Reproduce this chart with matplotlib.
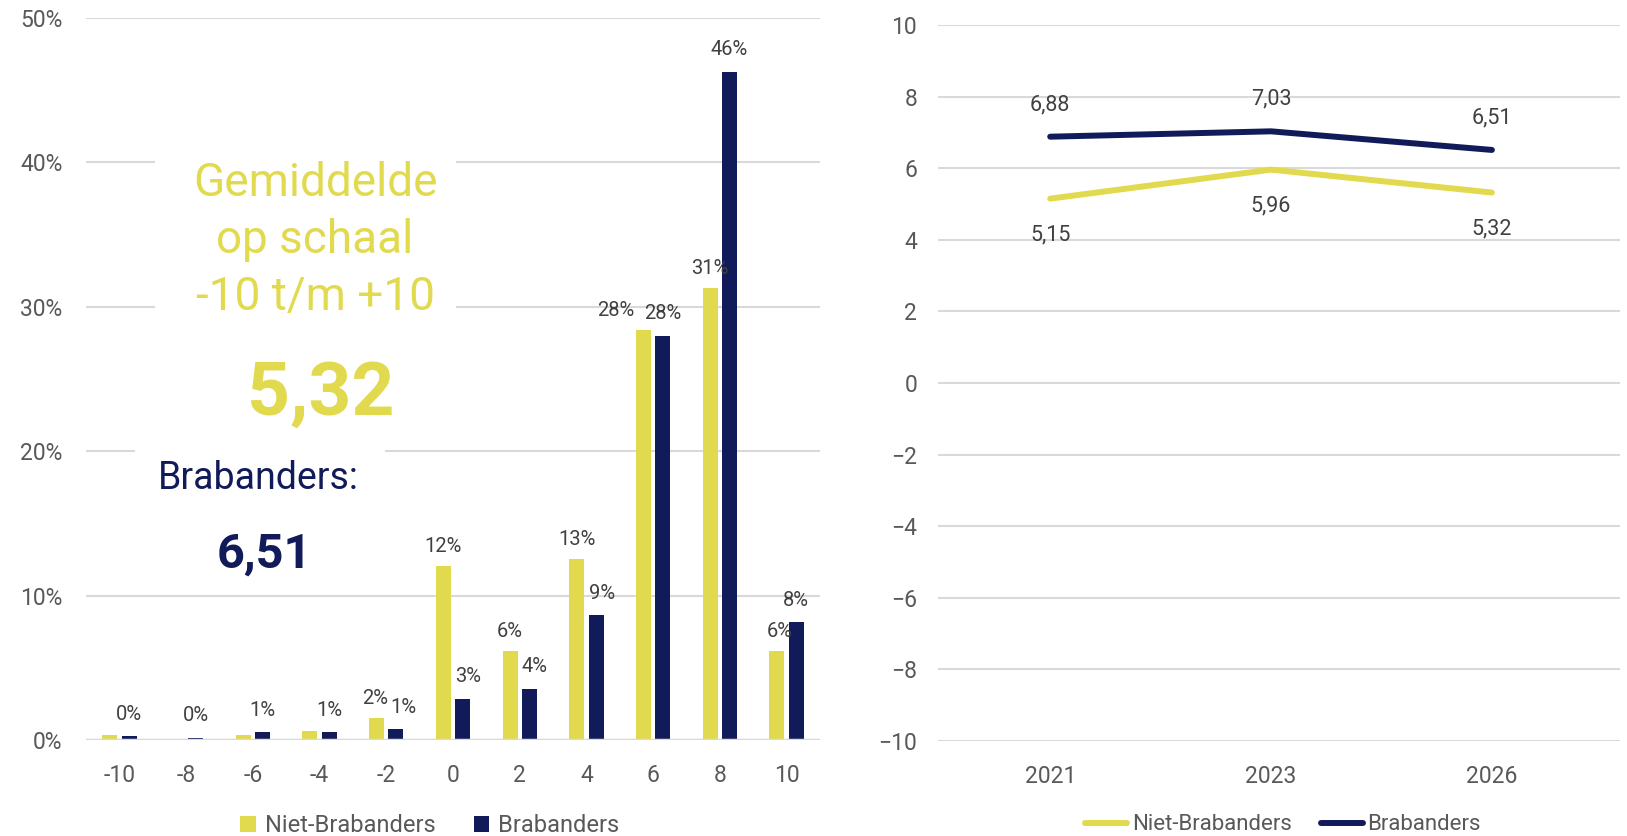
import matplotlib
matplotlib.use("Agg")
import matplotlib.pyplot as plt
from matplotlib.lines import Line2D
from matplotlib.patches import Patch, Rectangle
import numpy as np

plt.rcParams['font.family'] = ['Roboto', 'DejaVu Sans']

# ---------------- data ----------------
scale_cats = ["-10", "-8", "-6", "-4", "-2", "0", "2", "4", "6", "8", "10"]
niet_pct = [0.35, 0.07, 0.35, 0.64, 1.52, 12.05, 6.16, 12.53, 28.4, 31.28, 6.16]
brab_pct = [0.26, 0.14, 0.52, 0.52, 0.74, 2.84, 3.55, 8.63, 27.98, 46.28, 8.15]
pct_ticks = [0, 10, 20, 30, 40, 50]

years = ["2021", "2023", "2026"]
niet_mean = [5.15, 5.96, 5.32]
brab_mean = [6.88, 7.03, 6.51]
mean_ticks = [-10, -8, -6, -4, -2, 0, 2, 4, 6, 8, 10]

series_names = ["Niet-Brabanders", "Brabanders"]

# ---------------- style ----------------
YEL = "#E2DA4E"
NAV = "#121B5A"
GRID = "#D9D9D9"
TICK = "#595959"
LAB = "#404040"

W, H = 1627, 836
fig = plt.figure(figsize=(W / 100, H / 100), dpi=100)


def fx(px):
    return px / W


def fy(py):
    return 1 - py / H


# ---------------- left: bar chart ----------------
axL = fig.add_axes([fx(86), fy(740), 734 / W, 722 / H])
x = np.arange(len(scale_cats))
bw = 0.225
off = 0.145
axL.bar(x - off, niet_pct, width=bw, color=YEL, zorder=3)
axL.bar(x + off, brab_pct, width=bw, color=NAV, zorder=3)
axL.set_xlim(-0.5, len(scale_cats) - 0.5)
axL.set_ylim(0, 50)
axL.set_yticks(pct_ticks)
axL.set_yticklabels([f"{t}%" for t in pct_ticks])
axL.set_xticks(x)
axL.set_xticklabels(scale_cats)
axL.grid(axis='y', color=GRID, linewidth=1.5, zorder=0)
axL.set_axisbelow(True)
for s in axL.spines.values():
    s.set_visible(False)
axL.tick_params(axis='both', length=0, labelsize=16.5, colors=TICK)
axL.tick_params(axis='y', pad=17)
axL.tick_params(axis='x', pad=17)
axL.axhline(0, color=GRID, linewidth=2.5, zorder=4)

# bar labels
show_n = [False, False, False, False, True, True, True, True, True, True, True]
dx_n = [0, 0, 0, 0, -1, 0, 0, 0, -20, 0, 2]
dx_b = [0, 0, 0, 0, 5, 4, 4, 4, 0, 0, 0]
for i in range(len(scale_cats)):
    if show_n[i]:
        axL.annotate(f"{round(niet_pct[i])}%", (x[i] - off, niet_pct[i]),
                     xytext=(dx_n[i], 14), textcoords='offset points',
                     ha='center', va='center', fontsize=14.5, color=LAB)
    axL.annotate(f"{round(brab_pct[i])}%", (x[i] + off, brab_pct[i]),
                 xytext=(dx_b[i], 16), textcoords='offset points',
                 ha='center', va='center', fontsize=14.5, color=LAB)

# legend left
hL = [Patch(facecolor=YEL), Patch(facecolor=NAV)]
fig.legend(hL, series_names, loc='center', bbox_to_anchor=(fx(430), fy(826)),
           ncol=2, frameon=False, fontsize=17, labelcolor=TICK,
           handlelength=0.65, handleheight=0.65, handletextpad=0.4, columnspacing=1.6)

# white text boxes over the grid
fig.patches.append(Rectangle((fx(155), fy(425)), (456 - 155) / W, (425 - 135) / H,
                             transform=fig.transFigure, facecolor='white',
                             edgecolor='none', zorder=1))
fig.patches.append(Rectangle((fx(135), fy(588)), (385 - 135) / W, (588 - 425) / H,
                             transform=fig.transFigure, facecolor='white',
                             edgecolor='none', zorder=1))

fig.text(fx(315), fy(240), "Gemiddelde\nop schaal\n-10 t/m +10", ha='center', va='center',
         fontsize=33, color=YEL, linespacing=1.38, zorder=2)
fig.text(fx(321), fy(395), "5,32", ha='center', va='center', fontsize=54,
         fontweight='bold', color=YEL, zorder=2)
fig.text(fx(258), fy(479), "Brabanders:", ha='center', va='center', fontsize=27,
         color=NAV, zorder=2)
fig.text(fx(264), fy(555), "6,51", ha='center', va='center', fontsize=35,
         fontweight='bold', color=NAV, zorder=2)

# ---------------- right: line chart ----------------
axR = fig.add_axes([fx(938), fy(741), (1620 - 938) / W, 716 / H])
xi = np.arange(len(years))
axR.plot(xi, niet_mean, color=YEL, linewidth=4.3, solid_capstyle='round',
         solid_joinstyle='round', zorder=3)
axR.plot(xi, brab_mean, color=NAV, linewidth=4.3, solid_capstyle='round',
         solid_joinstyle='round', zorder=3)
axR.set_xlim(-0.508, 2.58)
axR.set_ylim(-10, 10)
axR.set_yticks(mean_ticks)
axR.set_xticks(xi)
axR.set_xticklabels(years)
axR.grid(axis='y', color=GRID, linewidth=1.5, zorder=0)
axR.set_axisbelow(True)
for s in axR.spines.values():
    s.set_visible(False)
axR.tick_params(axis='both', length=0, labelsize=16.5, colors=TICK)
axR.tick_params(axis='y', pad=15)
axR.tick_params(axis='x', pad=17)
for i in range(len(years)):
    axR.annotate(f"{brab_mean[i]:.2f}".replace('.', ','), (xi[i], brab_mean[i]),
                 xytext=(0, 23), textcoords='offset points', ha='center', va='center',
                 fontsize=15.5, color=LAB)
    axR.annotate(f"{niet_mean[i]:.2f}".replace('.', ','), (xi[i], niet_mean[i]),
                 xytext=(0, -26), textcoords='offset points', ha='center', va='center',
                 fontsize=15.5, color=LAB)

hR = [Line2D([0], [0], color=YEL, linewidth=4.3, solid_capstyle='round'),
      Line2D([0], [0], color=NAV, linewidth=4.3, solid_capstyle='round')]
fig.legend(hR, series_names, loc='center', bbox_to_anchor=(fx(1283), fy(825)),
           ncol=2, frameon=False, fontsize=16, labelcolor=TICK,
           handlelength=1.9, handletextpad=0.2, columnspacing=1.3)

fig.savefig("out.png", dpi=100)
